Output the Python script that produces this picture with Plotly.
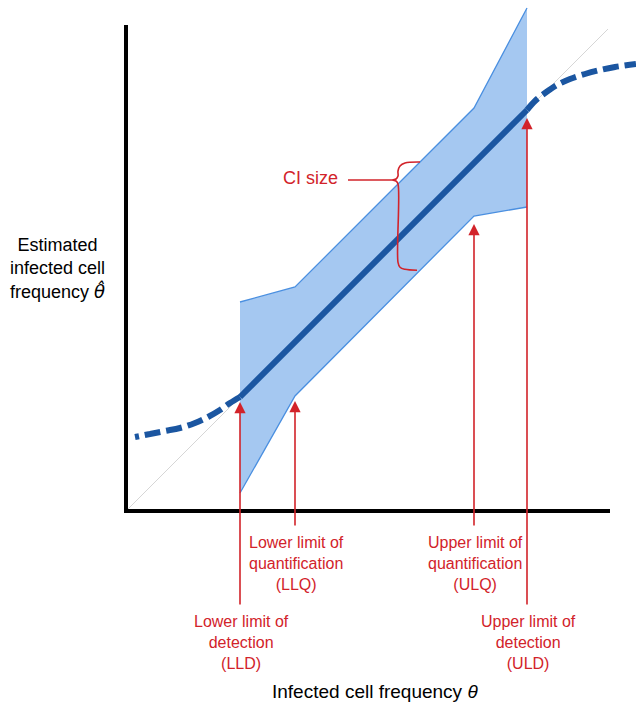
import numpy as np
import plotly.graph_objects as go

# Axis positions of the four limits (true frequency theta)
limit_names = ["LLD", "LLQ", "ULQ", "ULD"]
limit_theta = [114, 169, 348, 401]

# Confidence interval bounds of the estimate at each limit
ci_upper = [209, 224, 403, 503]
ci_lower = [18, 115, 295, 304]

# Estimate outside the detection range (bends away from the identity line)
low_theta = [9, 24, 39, 54, 69, 82, 94, 104, 114]
low_hat = [74, 77, 80, 83, 88, 94, 101, 108, 114]
high_theta = [401, 409, 419, 431, 444, 459, 474, 489, 510]
high_hat = [401, 410, 418, 426, 432, 437, 441, 444, 447]

# Identity line and axis extents
identity = [2, 482]
x_axis_len = 484
y_axis_len = 486

limit_labels = {
    "LLD": "Lower limit of<br>detection<br>(LLD)",
    "LLQ": "Lower limit of<br>quantification<br>(LLQ)",
    "ULQ": "Upper limit of<br>quantification<br>(ULQ)",
    "ULD": "Upper limit of<br>detection<br>(ULD)",
}
ci_probe_theta = 294

RED = "#d2232a"
BAND = "#a5c8f1"
BAND_EDGE = "#4a8fe0"
EST = "#1b56a1"
FONT = "Liberation Sans, Arial, Helvetica, sans-serif"

fig = go.Figure()

# identity line
fig.add_trace(go.Scatter(x=identity, y=identity, mode="lines",
                         line=dict(color="#d6d6d6", width=1), hoverinfo="skip"))

# CI band between LLD and ULD
band_x = limit_theta + limit_theta[::-1]
band_y = ci_upper + ci_lower[::-1]
fig.add_trace(go.Scatter(x=band_x, y=band_y, mode="lines", fill="toself",
                         fillcolor=BAND, line=dict(width=0), hoverinfo="skip"))
for bound in (ci_upper, ci_lower):
    fig.add_trace(go.Scatter(x=limit_theta, y=bound, mode="lines",
                             line=dict(color=BAND_EDGE, width=1.3), hoverinfo="skip"))

# axes
fig.add_trace(go.Scatter(x=[0, x_axis_len], y=[0, 0], mode="lines",
                         line=dict(color="black", width=4), hoverinfo="skip"))
fig.add_trace(go.Scatter(x=[0, 0], y=[-2, y_axis_len], mode="lines",
                         line=dict(color="black", width=4), hoverinfo="skip"))

# estimate: solid within detection range, dashed outside
fig.add_trace(go.Scatter(x=[limit_theta[0], limit_theta[3]], y=[limit_theta[0], limit_theta[3]],
                         mode="lines", line=dict(color=EST, width=6), hoverinfo="skip"))
for tx, ty in ((low_theta[::-1], low_hat[::-1]), (high_theta, high_hat)):
    fig.add_trace(go.Scatter(x=tx, y=ty, mode="lines", line_shape="spline",
                             line=dict(color=EST, width=6, dash="16px,6px"),
                             hoverinfo="skip"))

# arrows pointing at the limits
est_at = dict(zip(limit_names, [limit_theta[0], ci_lower[1], ci_lower[2], limit_theta[3]]))
tail = {"LLD": -95, "LLQ": -16, "ULQ": -16, "ULD": -95}
standoff = {"LLD": 5, "LLQ": 5, "ULQ": 8, "ULD": 8}
label_y = {"LLD": -131, "LLQ": -52, "ULQ": -52, "ULD": -131}
for name, th in zip(limit_names, limit_theta):
    fig.add_annotation(x=th, y=est_at[name], ax=th, ay=tail[name],
                       xref="x", yref="y", axref="x", ayref="y", text="",
                       showarrow=True, arrowhead=2, arrowsize=1.4, arrowwidth=1.6,
                       arrowcolor=RED, standoff=standoff[name])
    fig.add_annotation(x=th + 1, y=label_y[name], xref="x", yref="y",
                       text=limit_labels[name], showarrow=False,
                       font=dict(family=FONT, size=16, color=RED),
                       align="center", xanchor="center", yanchor="middle")

# curly brace marking the CI size
up = float(np.interp(ci_probe_theta, limit_theta, ci_upper))
lo = float(np.interp(ci_probe_theta, limit_theta, ci_lower))
bx = ci_probe_theta - 22
tip_y = up - 18
brace_x = [ci_probe_theta, bx + 7, bx + 2, bx, bx, bx - 2, bx - 5, bx - 2, bx, bx, bx + 2, bx + 7, ci_probe_theta - 3]
brace_y = [up, up - 1, up - 4, up - 9, tip_y + 4, tip_y + 1, tip_y, tip_y - 1, tip_y - 4, lo + 8, lo + 3, lo + 1, lo]
fig.add_trace(go.Scatter(x=brace_x, y=brace_y, mode="lines", line_shape="spline",
                         line=dict(color=RED, width=1.6), hoverinfo="skip"))
fig.add_trace(go.Scatter(x=[bx - 50, bx - 5], y=[tip_y, tip_y], mode="lines",
                         line=dict(color=RED, width=1.6), hoverinfo="skip"))
fig.add_annotation(x=bx - 88, y=tip_y + 2, xref="x", yref="y", text="CI size",
                   showarrow=False, font=dict(family=FONT, size=18, color=RED),
                   xanchor="center", yanchor="middle")

# axis titles
fig.add_annotation(x=-69, y=243, xref="x", yref="y",
                   text="Estimated<br>infected cell<br>frequency "
                        "<span style=\"font-family:'DejaVu Sans'\"><i>θ̂</i></span>",
                   showarrow=False, font=dict(family=FONT, size=18, color="black"),
                   align="center", xanchor="center", yanchor="middle")
fig.add_annotation(x=249, y=-180, xref="x", yref="y",
                   text="Infected cell frequency <i>θ</i>",
                   showarrow=False, font=dict(family=FONT, size=19, color="black"),
                   xanchor="center", yanchor="middle")

fig.update_layout(
    width=636, height=705, margin=dict(l=0, r=0, t=0, b=0),
    paper_bgcolor="white", plot_bgcolor="white", showlegend=False,
    xaxis=dict(range=[-126, 510], visible=False, fixedrange=True),
    yaxis=dict(range=[-194, 511], visible=False, fixedrange=True),
)

fig.write_html("out.html")
